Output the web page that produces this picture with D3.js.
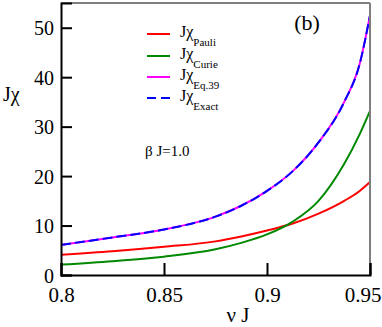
<!DOCTYPE html>
<html>
<head>
<meta charset="utf-8">
<script src="https://cdnjs.cloudflare.com/ajax/libs/d3/7.8.5/d3.min.js"></script>
<style>
  body { margin: 0; background: #fff; }
</style>
</head>
<body>
<svg id="chart" width="382" height="327"></svg>
<script>
// values
var nu = [0.8, 0.825, 0.85, 0.875, 0.8875, 0.9, 0.9125, 0.925, 0.9375, 0.945, 0.95];
var chiPauli = [4.1, 4.8, 5.7, 6.8, 7.8, 9.0, 10.4, 12.4, 15.0, 17.0, 18.8];
var chiCurie = [2.1, 2.8, 3.7, 5.2, 6.5, 8.2, 10.8, 15.0, 22.5, 28.5, 33.2];
var chiEq39 = [6.1, 7.6, 9.2, 11.8, 14.0, 17.0, 21.0, 26.8, 35.0, 42.7, 52.5];
var chiExact = [6.1, 7.6, 9.2, 11.8, 14.0, 17.0, 21.0, 26.8, 35.0, 42.7, 52.5];
var xTicks = [0.8, 0.85, 0.9, 0.95];
var yTicks = [0, 10, 20, 30, 40, 50];

var series = [
  { name: "Pauli", values: chiPauli, color: "#ff0000", dash: null },
  { name: "Curie", values: chiCurie, color: "#008800", dash: null },
  { name: "Eq.39", values: chiEq39, color: "#ff00ff", dash: null },
  { name: "Exact", values: chiExact, color: "#0000ff", dash: "10,4" }
];

var serif = "'Liberation Serif', 'Times New Roman', Times, 'DejaVu Serif', serif";

var svg = d3.select("#chart");
var plotL = 61, plotR = 370, plotT = 3, plotB = 275;

var x = d3.scaleLinear().domain([0.8, 0.95]).range([plotL, plotR]);
var y = d3.scaleLinear().domain([0, 55]).range([plotB, plotT]);

// curves
var line = d3.line()
  .x(function(d) { return x(d[0]); })
  .y(function(d) { return y(d[1]); })
  .curve(d3.curveMonotoneX);

series.forEach(function(s) {
  svg.append("path")
    .datum(d3.zip(nu, s.values))
    .attr("d", line)
    .attr("fill", "none")
    .attr("stroke", s.color)
    .attr("stroke-width", 2)
    .attr("stroke-dasharray", s.dash);
});

// frame
svg.append("line").attr("x1", plotL).attr("x2", plotR).attr("y1", plotT).attr("y2", plotT)
  .attr("stroke", "#7f7f7f").attr("stroke-width", 2);
svg.append("line").attr("x1", plotR).attr("x2", plotR).attr("y1", plotT).attr("y2", plotB)
  .attr("stroke", "#7f7f7f").attr("stroke-width", 2);

// axes with inward ticks
var xAxis = svg.append("g").attr("transform", "translate(0," + plotB + ")")
  .call(d3.axisBottom(x).tickValues(xTicks).tickSize(-12).tickPadding(14)
    .tickFormat(function(d) { return String(d); }));
var yAxis = svg.append("g").attr("transform", "translate(" + plotL + ",0)")
  .call(d3.axisLeft(y).tickValues(yTicks).tickSize(-11).tickPadding(18));

[xAxis, yAxis].forEach(function(a) {
  a.attr("font-family", null);
  a.select(".domain").attr("stroke", "#000").attr("stroke-width", 2);
  a.selectAll(".tick line").attr("stroke", "#000").attr("stroke-width", 2);
});
xAxis.selectAll("text").attr("font-size", 21).attr("dy", "0.6em");
yAxis.selectAll("text").attr("font-size", 20).attr("dy", "0.35em").attr("x", -7);

// axis titles
svg.append("text").attr("x", 3).attr("y", 101).attr("font-size", 20).text("Jχ");
svg.append("text").attr("x", 238).attr("y", 322).attr("font-size", 21)
  .attr("text-anchor", "middle").text("ν J");

svg.append("text").attr("x", 307).attr("y", 30).attr("font-size", 22)
  .attr("text-anchor", "middle").text("(b)");

// legend
var legY = [34, 56, 77, 98];
series.forEach(function(s, i) {
  var ly = legY[i];
  svg.append("line").attr("x1", 147).attr("x2", 170).attr("y1", ly).attr("y2", ly)
    .attr("stroke", s.color).attr("stroke-width", 2)
    .attr("stroke-dasharray", s.dash ? "9,5" : null);
  var t = svg.append("text").attr("x", 180).attr("y", ly + 3).attr("font-size", 16);
  t.append("tspan").text("Jχ");
  t.append("tspan").attr("dy", 9).attr("font-size", 11).text(s.name);
});

svg.append("text").attr("x", 145).attr("y", 156).attr("font-size", 15).text("β J=1.0");

svg.selectAll("text").style("font-family", serif).attr("fill", "#000");

// keep last x label inside the picture
xAxis.selectAll(".tick text").each(function() {
  var b = this.getBBox();
  var tx = x(d3.select(this.parentNode).datum());
  if (tx + b.x + b.width > 381) d3.select(this).attr("x", 381 - (tx + b.x + b.width));
});
</script>
</body>
</html>
